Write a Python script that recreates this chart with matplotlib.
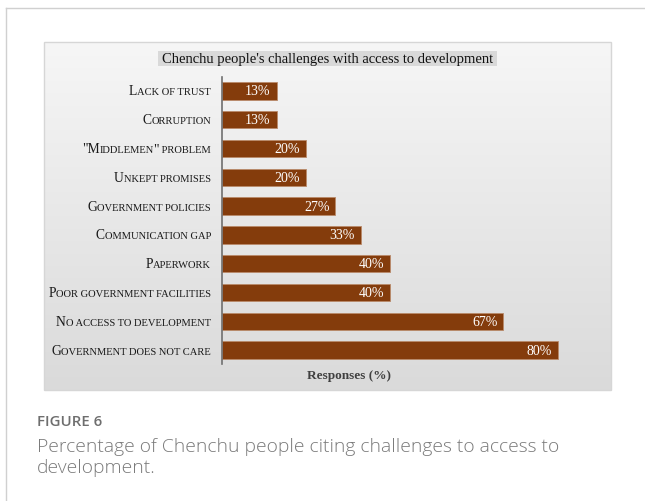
import numpy as np
import matplotlib
matplotlib.use("Agg")
import matplotlib.pyplot as plt
from matplotlib.patches import Rectangle
from matplotlib.lines import Line2D
from matplotlib.offsetbox import TextArea, HPacker, AnnotationBbox

# Chart data (top to bottom)
categories = [
    "Lack of trust",
    "Corruption",
    "\"Middlemen\" problem",
    "Unkept promises",
    "Government policies",
    "Communication gap",
    "Paperwork",
    "Poor government facilities",
    "No access to development",
    "Government does not care",
]
responses = [13, 13, 20, 20, 27, 33, 40, 40, 67, 80]

title = "Chenchu people's challenges with access to development"
xlabel = "Responses (%)"
fig_label = "FIGURE 6"
caption_lines = ["Percentage of Chenchu people citing challenges to access to",
                 "development."]

W, H = 645, 502
fig = plt.figure(figsize=(W / 100, H / 100), dpi=100)
fig.patch.set_facecolor("white")


def fx(x):
    return x / W


def fy(y):
    return 1 - y / H


def px_axes(x0, y0, x1, y1, **kw):
    return fig.add_axes([fx(x0), fy(y1), (x1 - x0) / W, (y1 - y0) / H], **kw)


# card border
fig.add_artist(Line2D([fx(6), 1.0], [fy(9), fy(9)], color="#d0d0d0", lw=1.0,
                      transform=fig.transFigure))
fig.add_artist(Line2D([fx(6), fx(6)], [fy(9), 0.0], color="#d0d0d0", lw=1.0,
                      transform=fig.transFigure))

# chart panel with vertical gradient
P0, P1, P2, P3 = 44, 43, 611, 391
bg = px_axes(P0, P1, P2, P3)
grad = np.linspace(0, 1, 256).reshape(-1, 1)
top_c = np.array([0.965, 0.965, 0.965])
bot_c = np.array([0.855, 0.855, 0.855])
img = top_c + (bot_c - top_c) * grad[..., None]
img = img.reshape(256, 1, 3)
bg.imshow(img, aspect="auto", extent=[0, 1, 0, 1], origin="upper")
bg.set_xlim(0, 1)
bg.set_ylim(0, 1)
bg.axis("off")
fig.add_artist(Rectangle((fx(P0), fy(P3)), (P2 - P0) / W, (P3 - P1) / H,
                         transform=fig.transFigure, fill=False,
                         edgecolor="#d6d6d6", lw=1.0))

# title box
fig.add_artist(Rectangle((fx(158), fy(67)), (497 - 158) / W, (67 - 52) / H,
                         transform=fig.transFigure, facecolor="#d9d9d9",
                         edgecolor="none"))
fig.text(fx(327.5), fy(59.5), title, ha="center", va="center",
         fontfamily="Liberation Serif", fontsize=10.5, color="#111111")

# bar axes
AX0, AX1 = 222, 600
ax = px_axes(AX0, 77.6, AX1, 365.4)
ax.patch.set_alpha(0)
y = np.arange(len(categories))
ax.barh(y, responses, height=0.6, color="#843c0c", edgecolor="#b98a6a",
        linewidth=0.6, zorder=2)
ax.set_xlim(0, 90)
ax.set_ylim(len(categories) - 0.5, -0.5)
for s in ["top", "right", "bottom"]:
    ax.spines[s].set_visible(False)
ax.spines["left"].set_color("#6f6f6f")
ax.spines["left"].set_linewidth(1.2)
ax.spines["left"].set_zorder(3)
ax.set_xticks([])
ax.set_yticks([])

for i, v in enumerate(responses):
    ax.annotate(f"{v}%", xy=(v, i), xytext=(-4.3, 0), textcoords="offset points",
                ha="right", va="center", color="white",
                fontfamily="Liberation Serif", fontsize=10, zorder=4)


# small-caps category labels
def small_caps(label, big=9.8, small=7.6):
    runs = []
    for ch in label:
        is_small = ch.islower() or ch == " "
        if runs and runs[-1][1] == is_small:
            runs[-1][0] += ch
        else:
            runs.append([ch, is_small])
    boxes = []
    for txt, is_small in runs:
        boxes.append(TextArea(txt.upper(), textprops=dict(
            fontfamily="Liberation Serif", fontsize=small if is_small else big,
            color="#1a1a1a")))
    return HPacker(children=boxes, align="baseline", pad=0, sep=0)


for i, lab in enumerate(categories):
    ab = AnnotationBbox(small_caps(lab), (fx(211), i),
                        xycoords=("figure fraction", ax.transData),
                        box_alignment=(1.0, 0.5), frameon=False, pad=0)
    fig.add_artist(ab)

# x axis title
fig.text(fx(349), fy(376), xlabel, ha="center", va="center",
         fontfamily="Liberation Serif", fontweight="bold", fontsize=9.5,
         color="#404040")

# figure caption
fig.text(fx(37), fy(426), fig_label, ha="left", va="baseline",
         fontfamily="Open Sans", fontweight="semibold", fontsize=10.8,
         color="#6e6e6e")
fig.text(fx(37), fy(452), caption_lines[0], ha="left", va="baseline",
         fontfamily="Open Sans", fontweight="light", fontsize=13.9,
         color="#7a7a7a")
fig.text(fx(37), fy(473), caption_lines[1], ha="left", va="baseline",
         fontfamily="Open Sans", fontweight="light", fontsize=13.9,
         color="#7a7a7a")

fig.savefig("out.png", dpi=100, facecolor="white")
